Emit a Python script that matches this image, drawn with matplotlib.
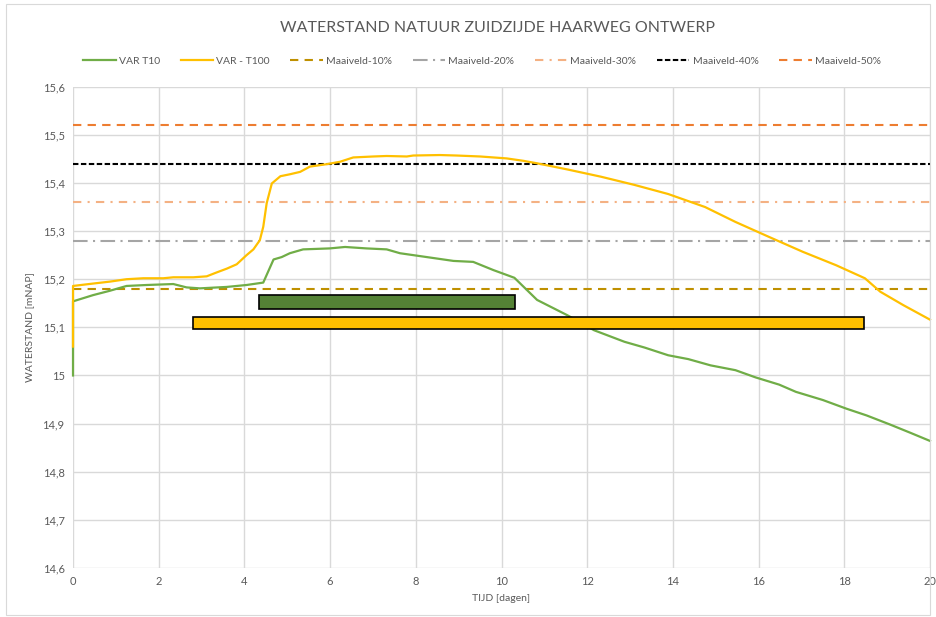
import matplotlib
matplotlib.use("Agg")
import matplotlib.pyplot as plt
from matplotlib.patches import Rectangle
from matplotlib.ticker import FuncFormatter, MultipleLocator

plt.rcParams['font.family'] = ['Lato', 'DejaVu Sans']

# ---------------- data ----------------
t10_days = [0.0, 0.0, 0.47, 0.86, 1.25, 1.72, 2.34, 2.65, 2.96, 3.59, 4.05, 4.44,
            4.68, 4.87, 5.06, 5.37, 5.99, 6.35, 6.85, 7.32, 7.63, 8.10, 8.88,
            9.34, 9.81, 10.30, 10.83, 11.54, 12.16, 12.87, 13.34, 13.89, 14.36,
            14.88, 15.46, 15.93, 16.48, 16.87, 17.50, 18.05, 18.52, 19.07,
            19.54, 20.0]
t10_vals = [15.00, 15.154, 15.167, 15.176, 15.186, 15.188, 15.190, 15.183,
            15.181, 15.184, 15.188, 15.193, 15.241, 15.246, 15.254, 15.262,
            15.264, 15.267, 15.264, 15.262, 15.254, 15.248, 15.238, 15.236,
            15.219, 15.203, 15.157, 15.125, 15.094, 15.070, 15.058, 15.042,
            15.034, 15.021, 15.011, 14.996, 14.981, 14.966, 14.949, 14.931,
            14.917, 14.898, 14.881, 14.864]

t100_days = [0.0, 0.0, 0.47, 0.86, 1.25, 1.64, 2.11, 2.34, 2.81, 3.12, 3.35,
             3.59, 3.82, 4.05, 4.21, 4.36, 4.44, 4.52, 4.64, 4.84, 5.06, 5.30,
             5.53, 5.92, 6.23, 6.54, 7.01, 7.32, 7.79, 7.94, 8.56, 8.95, 9.50,
             10.12, 10.51, 10.82, 11.54, 12.32, 13.10, 13.89, 14.75, 15.46,
             16.24, 17.03, 17.81, 18.48, 18.84, 19.38, 20.0]
t100_vals = [15.06, 15.186, 15.191, 15.195, 15.200, 15.202, 15.202, 15.204,
             15.204, 15.206, 15.214, 15.222, 15.231, 15.250, 15.262, 15.281,
             15.309, 15.358, 15.399, 15.414, 15.418, 15.423, 15.434, 15.439,
             15.444, 15.453, 15.455, 15.456, 15.455, 15.457, 15.458, 15.457,
             15.455, 15.451, 15.446, 15.441, 15.428, 15.413, 15.396, 15.377,
             15.350, 15.319, 15.288, 15.257, 15.229, 15.202, 15.174, 15.146,
             15.116]

maaiveld_labels = ['Maaiveld-10%', 'Maaiveld-20%', 'Maaiveld-30%',
                   'Maaiveld-40%', 'Maaiveld-50%']
maaiveld_levels = [15.18, 15.28, 15.36, 15.44, 15.52]

# duration bars: (start day, end day, bottom, top)
bar_t10 = [4.33, 10.32, 15.138, 15.167]
bar_t100 = [2.81, 18.45, 15.096, 15.122]

# ---------------- styling ----------------
maaiveld_colors = ['#BF9000', '#A5A5A5', '#F4B183', '#000000', '#ED7D31']
maaiveld_dashes = [(0, (4, 3)), (0, (7, 2.6, 1, 2.6)), (0, (4, 3, 1, 3)),
                   (0, (2.6, 1.2)), (0, (4, 3))]
text_col = '#595959'

fig = plt.figure(figsize=(9.36, 6.17), dpi=100)
fig.patches.append(Rectangle((0.006, 0.004), 0.988, 0.99, transform=fig.transFigure,
                             fill=False, edgecolor='#D9D9D9', lw=0.8))
ax = fig.add_axes([0.078, 0.0794, 0.9156, 0.7801])

ax.plot(t10_days, t10_vals, color='#70AD47', lw=1.6, label='VAR T10', zorder=4,
        clip_on=False)
ax.plot(t100_days, t100_vals, color='#FFC000', lw=1.6, label='VAR - T100', zorder=5,
        clip_on=False)
for lab, lev, col, ds in zip(maaiveld_labels, maaiveld_levels, maaiveld_colors, maaiveld_dashes):
    ax.plot([0, 20], [lev, lev], color=col, lw=1.5, linestyle=ds, label=lab, zorder=3)

for (x0, x1, y0, y1), fc in [(bar_t10, '#548235'), (bar_t100, '#FFC000')]:
    ax.barh((y0 + y1) / 2, x1 - x0, height=y1 - y0, left=x0, color=fc,
            edgecolor='black', linewidth=1.2, zorder=6)

ax.set_xlim(0, 20)
ax.set_ylim(14.6, 15.6)
ax.xaxis.set_major_locator(MultipleLocator(2))
ax.yaxis.set_major_locator(MultipleLocator(0.1))

def yfmt(v, pos):
    s = ('%.1f' % v)
    if s.endswith('.0'):
        s = s[:-2]
    return s.replace('.', ',')
ax.yaxis.set_major_formatter(FuncFormatter(yfmt))

ax.grid(True, color='#D9D9D9', lw=1.0, zorder=0)
ax.set_axisbelow(True)
for sp in ax.spines.values():
    sp.set_visible(False)
ax.tick_params(length=0, labelsize=8, labelcolor=text_col, pad=6)

ax.set_xlabel('TIJD [dagen]', fontsize=7.5, color=text_col, labelpad=5)
ax.set_ylabel('WATERSTAND [mNAP]', fontsize=7.5, color=text_col, labelpad=6)

fig.text(0.532, 0.955, 'WATERSTAND NATUUR ZUIDZIJDE HAARWEG ONTWERP', ha='center',
         va='center', fontsize=11.5, color=text_col)

handles, labels = ax.get_legend_handles_labels()
fig.legend(handles, labels, loc='center', bbox_to_anchor=(0.515, 0.901), ncol=7,
           frameon=False, fontsize=7.5, handlelength=3.1, columnspacing=2.0,
           handletextpad=0.3, labelcolor=text_col)

fig.savefig('out.png', dpi=100)
